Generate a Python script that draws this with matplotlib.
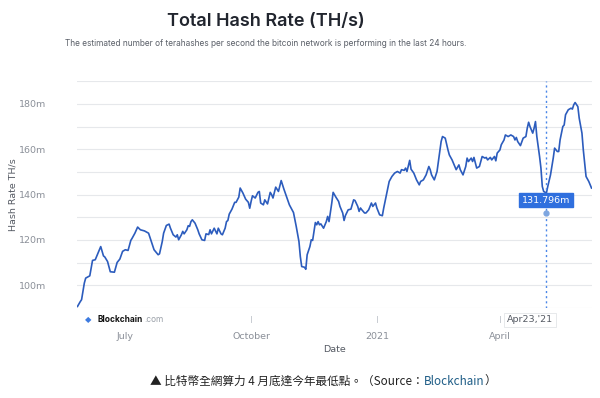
import matplotlib
matplotlib.use("Agg")
import matplotlib.pyplot as plt
import matplotlib.dates as mdates
import matplotlib.transforms as mtransforms
import pandas as pd

dates = [
"2020-05-27","2020-05-29","2020-05-30","2020-06-01","2020-06-02","2020-06-05","2020-06-07","2020-06-09",
"2020-06-11","2020-06-13","2020-06-15","2020-06-16","2020-06-18","2020-06-20","2020-06-23","2020-06-25",
"2020-06-27","2020-06-29","2020-07-01","2020-07-03","2020-07-05","2020-07-06","2020-07-08","2020-07-10",
"2020-07-12","2020-07-15","2020-07-18","2020-07-20","2020-07-22","2020-07-25","2020-07-26","2020-07-28",
"2020-07-29","2020-07-31","2020-08-02","2020-08-03","2020-08-05","2020-08-07","2020-08-08","2020-08-09",
"2020-08-11","2020-08-12","2020-08-13","2020-08-15","2020-08-16","2020-08-17","2020-08-18","2020-08-19",
"2020-08-21","2020-08-23","2020-08-24","2020-08-26","2020-08-28","2020-08-29","2020-08-31","2020-09-01",
"2020-09-02","2020-09-04","2020-09-06","2020-09-07","2020-09-09","2020-09-10","2020-09-12","2020-09-13",
"2020-09-14","2020-09-15","2020-09-17","2020-09-19","2020-09-20","2020-09-22","2020-09-23","2020-09-25",
"2020-09-27","2020-09-29","2020-09-30","2020-10-01","2020-10-02","2020-10-04","2020-10-06","2020-10-07",
"2020-10-08","2020-10-10","2020-10-11","2020-10-13","2020-10-15","2020-10-16","2020-10-17","2020-10-19",
"2020-10-21","2020-10-23","2020-10-25","2020-10-27","2020-10-29","2020-10-31","2020-11-01","2020-11-03",
"2020-11-05","2020-11-06","2020-11-07","2020-11-09","2020-11-10","2020-11-11","2020-11-13","2020-11-14",
"2020-11-15","2020-11-17","2020-11-18","2020-11-19","2020-11-20","2020-11-21","2020-11-23","2020-11-25",
"2020-11-26","2020-11-27","2020-11-29","2020-11-30","2020-12-02","2020-12-04","2020-12-05","2020-12-07",
"2020-12-08","2020-12-09","2020-12-11","2020-12-13","2020-12-15","2020-12-16","2020-12-18","2020-12-19",
"2020-12-20","2020-12-21","2020-12-23","2020-12-24","2020-12-26","2020-12-28","2020-12-29","2020-12-31",
"2021-01-01","2021-01-03","2021-01-05","2021-01-06","2021-01-07","2021-01-09","2021-01-10","2021-01-12",
"2021-01-14","2021-01-16","2021-01-18","2021-01-19","2021-01-21","2021-01-22","2021-01-23","2021-01-25",
"2021-01-26","2021-01-28","2021-01-30","2021-02-01","2021-02-02","2021-02-04","2021-02-06","2021-02-08",
"2021-02-09","2021-02-10","2021-02-12","2021-02-14","2021-02-16","2021-02-17","2021-02-18","2021-02-20",
"2021-02-22","2021-02-23","2021-02-25","2021-02-27","2021-02-28","2021-03-02","2021-03-03","2021-03-05",
"2021-03-07","2021-03-08","2021-03-09","2021-03-11","2021-03-12","2021-03-13","2021-03-15","2021-03-17",
"2021-03-19","2021-03-21","2021-03-22","2021-03-23","2021-03-25","2021-03-26","2021-03-28","2021-03-29",
"2021-03-30","2021-04-01","2021-04-02","2021-04-04","2021-04-05","2021-04-07","2021-04-09","2021-04-11",
"2021-04-12","2021-04-13","2021-04-14","2021-04-16","2021-04-18","2021-04-20","2021-04-21","2021-04-22",
"2021-04-23","2021-04-25","2021-04-26","2021-04-27","2021-04-28","2021-04-30","2021-05-01","2021-05-02",
"2021-05-03","2021-05-05","2021-05-06","2021-05-08","2021-05-09","2021-05-10","2021-05-11","2021-05-13",
"2021-05-14","2021-05-15","2021-05-17","2021-05-18","2021-05-19","2021-05-21","2021-05-23","2021-05-24",
"2021-05-25","2021-05-26","2021-05-28","2021-05-29","2021-05-31","2021-06-01","2021-06-02","2021-06-03",
"2021-06-05","2021-06-07",
]

hash_rate = [
90.7,92.8,93.7,101.0,103.2,104.2,111.0,111.3,
114.2,117.1,113.0,112.5,110.5,106.0,105.8,110.1,
111.6,115.0,115.7,115.4,119.8,120.8,123.0,125.7,
124.5,124.0,123.0,119.3,115.7,113.5,113.9,119.3,
123.0,126.4,127.0,125.2,122.3,121.3,122.3,120.1,
122.3,123.8,122.7,124.5,126.3,126.0,128.1,128.9,
127.4,124.5,122.7,120.1,119.8,122.7,122.4,124.5,
122.7,125.2,122.7,125.2,122.7,122.3,125.2,128.1,
128.6,131.4,133.6,136.6,136.6,138.9,142.9,140.7,
138.0,136.6,134.0,137.0,139.5,138.5,141.0,141.4,
136.3,135.5,137.7,135.9,141.0,140.0,138.5,143.3,
141.4,146.2,142.4,138.9,135.5,133.3,132.1,126.0,
119.3,112.7,108.3,108.0,107.1,113.5,117.1,120.1,
119.8,127.7,126.7,128.1,126.7,127.1,125.2,128.1,
130.4,128.1,136.3,141.0,138.9,137.0,134.8,131.9,
128.6,130.8,133.3,133.6,137.7,137.4,134.8,132.6,
134.1,133.3,131.9,131.9,133.3,136.3,134.8,136.3,
134.1,131.1,130.7,134.1,137.0,142.9,145.8,148.0,
149.5,150.2,149.5,151.0,150.7,151.7,150.2,155.1,
151.2,149.5,146.5,144.3,145.8,146.5,148.7,152.4,
151.0,148.7,146.5,150.2,159.0,163.4,165.6,164.9,
159.7,157.5,155.3,152.4,151.0,153.1,151.0,148.7,
152.4,156.1,154.6,156.1,154.6,156.4,151.7,152.4,
156.8,156.1,156.4,155.3,156.4,155.3,156.8,154.9,
158.3,159.7,162.0,164.1,166.3,165.6,166.3,165.6,
164.1,165.2,163.4,161.6,164.9,165.6,169.3,171.9,
170.0,167.1,169.3,172.2,165.6,156.8,151.7,143.6,
141.4,140.7,143.6,148.7,152.4,156.1,160.5,159.0,
159.0,164.1,170.0,170.7,175.2,177.4,178.1,177.7,
179.6,180.6,178.8,173.7,167.1,159.7,153.9,148.0,
145.8,142.9,
]

x_ticks = ["2020-07-01", "2020-10-01", "2021-01-01", "2021-04-01"]
x_tick_labels = ["July", "October", "2021", "April"]
y_ticks = [100, 120, 140, 160, 180]
y_tick_labels = ["100m", "120m", "140m", "160m", "180m"]
y_grid = [90, 100, 110, 120, 130, 140, 150, 160, 170, 180, 190]

hover_date = "2021-05-05"
hover_value = 131.796
hover_label = "Apr23,'21"
hover_value_label = "131.796m"

title = "Total Hash Rate (TH/s)"
subtitle = "The estimated number of terahashes per second the bitcoin network is performing in the last 24 hours."
caption_main = "▲ 比特幣全網算力 4 月底達今年最低點。（Source："
caption_link = "Blockchain"
caption_end = "）"

x = mdates.date2num(pd.to_datetime(dates).to_pydatetime())
tick_pos = mdates.date2num(pd.to_datetime(x_ticks).to_pydatetime())
hd = mdates.date2num(pd.Timestamp(hover_date).to_pydatetime())

fig = plt.figure(figsize=(6.0, 3.98), dpi=100)
fig.patch.set_facecolor("white")
ax = fig.add_axes([0.128, 0.226, 0.859, 0.570])

for g in y_grid:
    ax.axhline(g, color="#e6e8eb", lw=0.8, zorder=0)

ax.plot(x, hash_rate, color="#2c5cbd", lw=1.2, zorder=3, solid_joinstyle="round")

ax.set_ylim(90, 190)
ax.set_xlim(mdates.date2num(pd.Timestamp("2020-05-26 12:00").to_pydatetime()),
            mdates.date2num(pd.Timestamp("2021-06-07 12:00").to_pydatetime()))
ax.set_yticks(y_ticks)
ax.set_yticklabels(y_tick_labels)
ax.set_xticks(tick_pos)
ax.set_xticklabels(x_tick_labels)
ax.tick_params(axis="both", length=0, labelsize=6.8, labelcolor="#8a8f98")
ax.tick_params(axis="x", pad=17)
ax.tick_params(axis="y", pad=22)
for s in ax.spines.values():
    s.set_visible(False)
ax.set_xlabel("Date", fontsize=6.8, color="#555a63", labelpad=3)
ax.set_ylabel("Hash Rate TH/s", fontsize=6.8, color="#555a63")
ax.yaxis.set_label_coords(-0.115, 0.5)

# tick marks below plot
trans = mtransforms.blended_transform_factory(ax.transData, ax.transAxes)
for t in tick_pos[1:]:
    ax.plot([t, t], [-0.036, -0.060], transform=trans, color="#c8ccd2", lw=0.7, clip_on=False)

# crosshair
ax.axvline(hd, color="#4a86e8", lw=1.0, ls=(0, (1.5, 2.2)), zorder=4)
ax.plot([hd], [hover_value], "o", color="#7ea6e0", ms=3.5, zorder=5)
ax.annotate(hover_value_label, xy=(hd, hover_value), xytext=(0, 9.5), textcoords="offset points",
            ha="center", va="center", fontsize=6.8, color="white",
            bbox=dict(boxstyle="square,pad=0.3", fc="#2f6fde", ec="#2f6fde"), zorder=6)
ax.annotate(hover_label, xy=(hd, 0), xycoords=trans, xytext=(-12, -8.5), textcoords="offset points",
            ha="center", va="center", fontsize=6.8, color="#555a63",
            bbox=dict(boxstyle="square,pad=0.3", fc="white", ec="#e3e5e8", lw=0.6), zorder=6)

fig.text(0.443, 0.945, title, fontsize=13.0, weight="semibold", color="#21252e",
         ha="center", va="center", family="Inter")
fig.text(0.443, 0.890, subtitle, fontsize=6.0, color="#5a5f68", ha="center", va="center", family="Inter")

fig.canvas.draw()
r = fig.canvas.get_renderer()

# logo
fig.text(0.147, 0.196, "◆", fontsize=6, color="#3d7be0", ha="center", va="center")
lg = fig.text(0.163, 0.196, "Blockchain", fontsize=6.0, color="#111111", weight="bold",
              ha="left", va="center", family="Inter")
lb = lg.get_window_extent(r)
fig.text(lb.x1 / fig.bbox.width + 0.002, 0.196, ".com", fontsize=6.0, color="#9aa0a8",
         ha="left", va="center", family="Inter")

cap_fam = ["Noto Sans CJK TC", "DejaVu Sans"]
cap_y = 0.042
t1 = fig.text(0.250, cap_y, caption_main, fontsize=8.4, color="#222222", ha="left", va="center", family=cap_fam)
bb = t1.get_window_extent(r)
t2 = fig.text(bb.x1 / fig.bbox.width, cap_y, caption_link, fontsize=8.4, color="#1d5c86",
              ha="left", va="center", family=cap_fam)
bb2 = t2.get_window_extent(r)
fig.text(bb2.x1 / fig.bbox.width, cap_y, caption_end, fontsize=8.4, color="#222222", ha="left", va="center", family=cap_fam)

fig.savefig("out.png", dpi=100, facecolor="white")
